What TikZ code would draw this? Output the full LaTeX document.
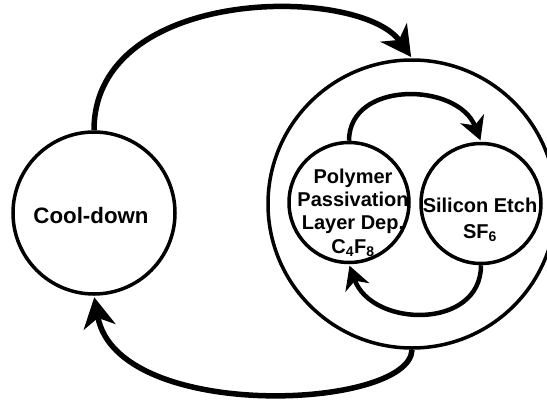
\documentclass[tikz,border=0pt]{standalone}
\usepackage{fontspec}
\setmainfont{Liberation Sans}
\usetikzlibrary{arrows.meta,calc}
\begin{document}
\begin{tikzpicture}[x=1pt,y=-1pt,
  stage/.style={circle,draw,line width=3.5pt,inner sep=0pt,minimum size=#1},
  lbl/.style={align=center,inner sep=0pt,font=\bfseries\fontsize{20}{23.3}\selectfont},
  outarrow/.style={line width=5.5pt,shorten >=1.5pt,-{Stealth[length=30pt,width=32pt,inset=9pt]}},
  inarrow/.style={line width=4.5pt,shorten >=1.5pt,-{Stealth[length=23pt,width=25pt,inset=7pt]}},
]
\useasboundingbox (0,0) rectangle (547,400);
\clip (0,0) rectangle (547,400);

\node[stage=162pt] (cool) at (94,213) {};
\node[stage=288pt] (outer) at (412,204) {};
\node[stage=120pt] (poly) at (349,202.5) {};
\node[stage=120pt] (sil) at (481,203.5) {};

\node[lbl,font=\bfseries\fontsize{22.3}{26}\selectfont] (cooltxt) at (91,215.5) {Cool-down};
\node[lbl] (polytxt) at (353,212.5) {Polymer\\Passivation\\Layer Dep.\\C\textsubscript{4}F\textsubscript{8}};
\node[lbl,font=\bfseries\fontsize{20}{25.6}\selectfont] (siltxt) at (480,220) {Silicon Etch\\SF\textsubscript{6}};

\draw[inarrow] (poly.north) .. controls (349,80) and (458,82) .. (sil.north);
\draw[inarrow] (sil.south) .. controls (481,330) and (372,328) .. (poly.south);
\draw[outarrow] (cool.north) .. controls (94,-15) and (360,-15) .. (outer.north);
\draw[outarrow] (outer.south) .. controls (410,410) and (117,423) .. (cool.south);
\end{tikzpicture}
\end{document}
